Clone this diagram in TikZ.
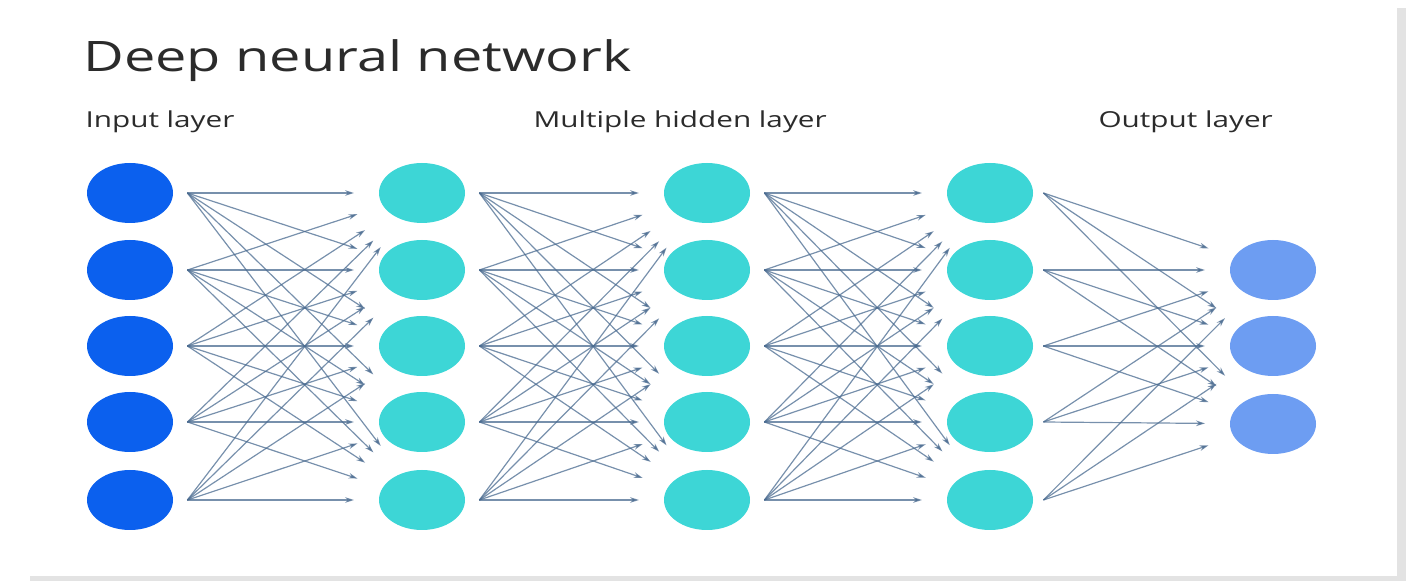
\documentclass[tikz,border=0pt]{standalone}
\usepackage{fontspec}
\setmainfont{Open Sans}
\usetikzlibrary{shapes.geometric,arrows.meta}
\definecolor{inblue}{HTML}{0B60EE}
\definecolor{hidcyan}{HTML}{3DD6D6}
\definecolor{outblue}{HTML}{6D9DF2}
\definecolor{edgecol}{HTML}{4A6B90}
\definecolor{txtgray}{HTML}{2B2B2B}
\begin{document}
\begin{tikzpicture}[x=0.5pt, y=-0.5pt,
    neuron/.style={ellipse, inner sep=0pt, minimum width=43pt, minimum height=30pt},
    lbl/.style={anchor=base west, inner sep=0pt, text=txtgray, xscale=1.35, font=\fontsize{11}{13}\selectfont},
    edge/.style={edgecol, opacity=0.75, line width=0.6pt, shorten >=34pt, -{Stealth[length=4.5pt, width=2.8pt]}}]
\useasboundingbox (0,0) rectangle (1406,581);
\fill[gray!22] (1397,8) rectangle (1406,581);
\fill[gray!22] (30,576) rectangle (1406,581);
    \node[lbl, xscale=0.985, font=\fontsize{21}{25}\selectfont] (title) at (83,72) {Deep neural network};
    \node[lbl] (linput) at (85,128) {Input layer};
    \node[lbl] (lhidden) at (533,128) {Multiple hidden layer};
    \node[lbl] (loutput) at (1098,128) {Output layer};
    \foreach \n/\y in {1/193, 2/270, 3/346, 4/422, 5/500} {
        \node[neuron, fill=inblue] (in\n) at (130,\y) {};
        \node[neuron, fill=hidcyan] (ha\n) at (422,\y) {};
        \node[neuron, fill=hidcyan] (hb\n) at (707,\y) {};
        \node[neuron, fill=hidcyan] (hc\n) at (990,\y) {};
    }
    \foreach \n/\y in {1/270, 2/346, 3/424}
        \node[neuron, fill=outblue] (out\n) at (1273,\y) {};
    \foreach \from/\to in {in/ha, ha/hb, hb/hc}
        \foreach \i in {1,...,5}
            \foreach \j in {1,...,5}
                \draw[edge] ([xshift=7pt]\from\i.east) -- (\to\j.center);
    \foreach \i in {1,...,5}
        \foreach \j in {1,2,3}
            \draw[edge] ([xshift=5pt]hc\i.east) -- (out\j.center);
\end{tikzpicture}
\end{document}
